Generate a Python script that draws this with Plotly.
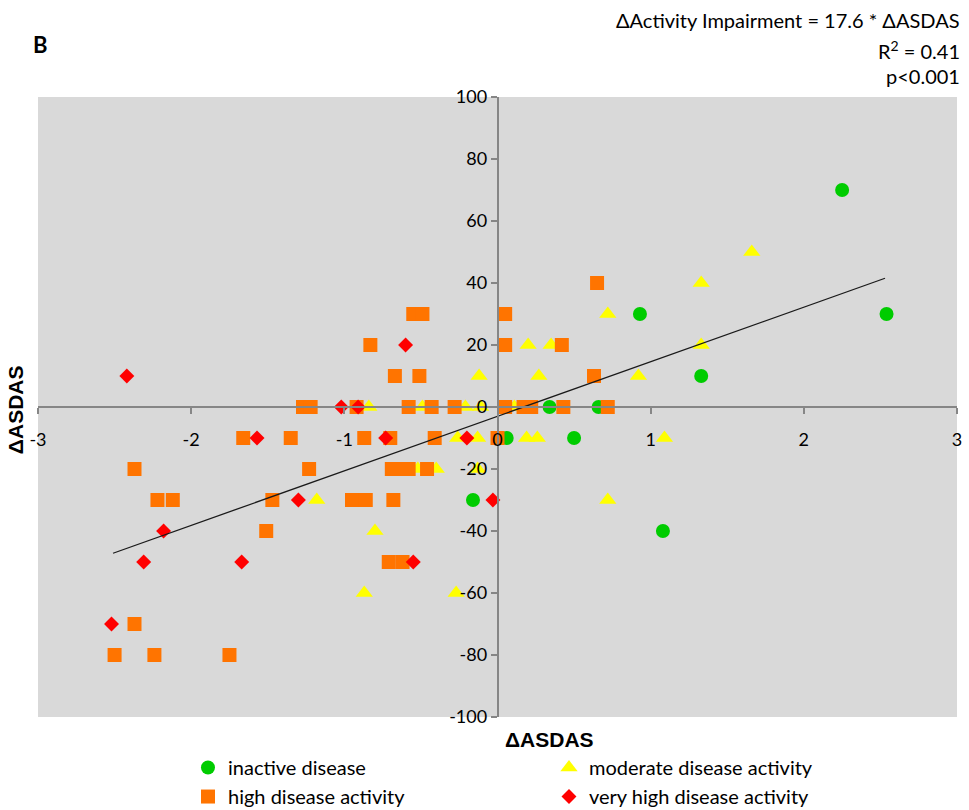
import plotly.graph_objects as go

# ---- data ----
inactive_x = [2.25, 2.54, 0.93, 1.33, 0.34, 0.66, 0.06, 0.50, -0.16, 1.08]
inactive_y = [70, 30, 30, 10, 0, 0, -10, -10, -30, -40]

moderate_x = [1.66, 1.33, 0.72, 0.20, 0.35, 1.33, -0.12, 0.27, 0.92,
              -0.84, -0.49, -0.21, -0.11, 0.11,
              -0.26, -0.13, 0.19, 0.26, 1.09,
              -0.52, -0.40, -0.13,
              -1.18, 0.72, -0.80, -0.87, -0.27]
moderate_y = [50, 40, 30, 20, 20, 20, 10, 10, 10,
              0, 0, 0, 0, 0,
              -10, -10, -10, -10, -10,
              -20, -20, -20,
              -30, -30, -40, -60, -60]

high_x = [0.65,
          -0.55, -0.49, 0.05,
          -0.83, 0.05, 0.42,
          -0.67, -0.51, 0.63,
          -1.27, -1.22, -0.92, -0.58, -0.43, -0.28, 0.05, 0.17, 0.22, 0.43, 0.72,
          -1.66, -1.35, -0.87, -0.70, -0.41, 0.00,
          -2.37, -1.23, -0.69, -0.63, -0.58, -0.46,
          -2.22, -2.12, -1.47, -0.95, -0.86, -0.68,
          -1.51,
          -0.71, -0.62,
          -2.37,
          -2.50, -2.24, -1.75]
high_y = [40,
          30, 30, 30,
          20, 20, 20,
          10, 10, 10,
          0, 0, 0, 0, 0, 0, 0, 0, 0, 0, 0,
          -10, -10, -10, -10, -10, -10,
          -20, -20, -20, -20, -20, -20,
          -30, -30, -30, -30, -30, -30,
          -40,
          -50, -50,
          -70,
          -80, -80, -80]

veryhigh_x = [-2.42, -0.60, -1.02, -0.91, -1.57, -0.73, -0.20, -1.30, -0.03,
              -2.18, -2.31, -1.67, -0.55, -2.52]
veryhigh_y = [10, 20, 0, 0, -10, -10, -10, -30, -30,
              -40, -50, -50, -50, -70]

fit_slope = 17.6
fit_intercept = -3.0
fit_x = [-2.51, 2.53]

x_ticks = [-3, -2, -1, 0, 1, 2, 3]
x_ticklabels = ["-3", "-2", "-1", "0", "1", "2", "3"]
y_ticks = [-100, -80, -60, -40, -20, 0, 20, 40, 60, 80, 100]
y_ticklabels = ["-100", "-80", "-60", "-40", "-20", "0", "20", "40", "60", "80", "100"]

FONT = "Lato"

fig = go.Figure()
fig.add_trace(go.Scatter(x=inactive_x, y=inactive_y, mode="markers", name="inactive disease",
                         marker=dict(symbol="circle", size=14, color="#00cc00")))
fig.add_trace(go.Scatter(x=moderate_x, y=moderate_y, mode="markers", name="moderate disease activity",
                         marker=dict(symbol="triangle-up", size=15, color="#ffff00")))
fig.add_trace(go.Scatter(x=high_x, y=high_y, mode="markers", name="high disease activity",
                         marker=dict(symbol="square", size=14, color="#ff7400")))
fig.add_trace(go.Scatter(x=veryhigh_x, y=veryhigh_y, mode="markers", name="very high disease activity",
                         marker=dict(symbol="diamond", size=11.5, color="#ff0000")))
fig.add_trace(go.Scatter(x=fit_x, y=[fit_slope * v + fit_intercept for v in fit_x], mode="lines",
                         line=dict(color="#1a1a1a", width=1.3), showlegend=False, hoverinfo="skip"))

axis_common = dict(showgrid=False, zeroline=False, showline=True, linecolor="#868686", linewidth=1.5,
                   ticks="outside", ticklen=6, tickcolor="#868686", tickwidth=1.5,
                   tickfont=dict(family=FONT, size=18, color="#000000"),
                   anchor="free", position=0.5, automargin=False)

fig.update_layout(
    width=969, height=810,
    margin=dict(l=38, r=12, t=97, b=93, autoexpand=False),
    paper_bgcolor="white", plot_bgcolor="#d9d9d9",
    xaxis=dict(range=[-3, 3], tickvals=x_ticks, ticktext=x_ticklabels, ticklabelstandoff=11, **axis_common),
    yaxis=dict(range=[-100, 100], tickvals=y_ticks, ticktext=y_ticklabels, **axis_common),
    legend=dict(orientation="h", xref="container", yref="container", x=0.194, y=0.0765,
                xanchor="left", yanchor="top",
                entrywidth=316, font=dict(family=FONT, size=20, color="#000000"),
                bgcolor="rgba(0,0,0,0)", tracegroupgap=0, itemwidth=30),
    showlegend=True,
)

ann_font = dict(family=FONT, size=20, color="#000000")
fig.add_annotation(text="ΔActivity Impairment = 17.6 * ΔASDAS", xref="paper", yref="paper",
                   x=1.0054, y=1.124, xanchor="right", yanchor="middle", showarrow=False, font=ann_font)
fig.add_annotation(text="R<sup>2</sup> = 0.41", xref="paper", yref="paper",
                   x=1.0054, y=1.076, xanchor="right", yanchor="middle", showarrow=False, font=ann_font)
fig.add_annotation(text="p<0.001", xref="paper", yref="paper",
                   x=1.0054, y=1.034, xanchor="right", yanchor="middle", showarrow=False, font=ann_font)
fig.add_annotation(text="<b>B</b>", xref="paper", yref="paper",
                   x=-0.008, y=1.084, xanchor="left", yanchor="middle", showarrow=False,
                   font=dict(family=FONT, size=22, color="#000000"))
fig.add_annotation(text="<b>ΔASDAS</b>", xref="paper", yref="paper",
                   x=0.557, y=-0.037, xanchor="center", yanchor="middle", showarrow=False,
                   font=dict(family="Liberation Sans", size=21, color="#000000"))
fig.add_annotation(text="<b>ΔASDAS</b>", xref="paper", yref="paper",
                   x=-0.025, y=0.495, xanchor="center", yanchor="middle", showarrow=False, textangle=-90,
                   font=dict(family="Liberation Sans", size=21, color="#000000"))

fig.write_html("out.html", config={"displayModeBar": False},
               post_script="document.body.style.margin='0';document.body.style.overflow='hidden';")
